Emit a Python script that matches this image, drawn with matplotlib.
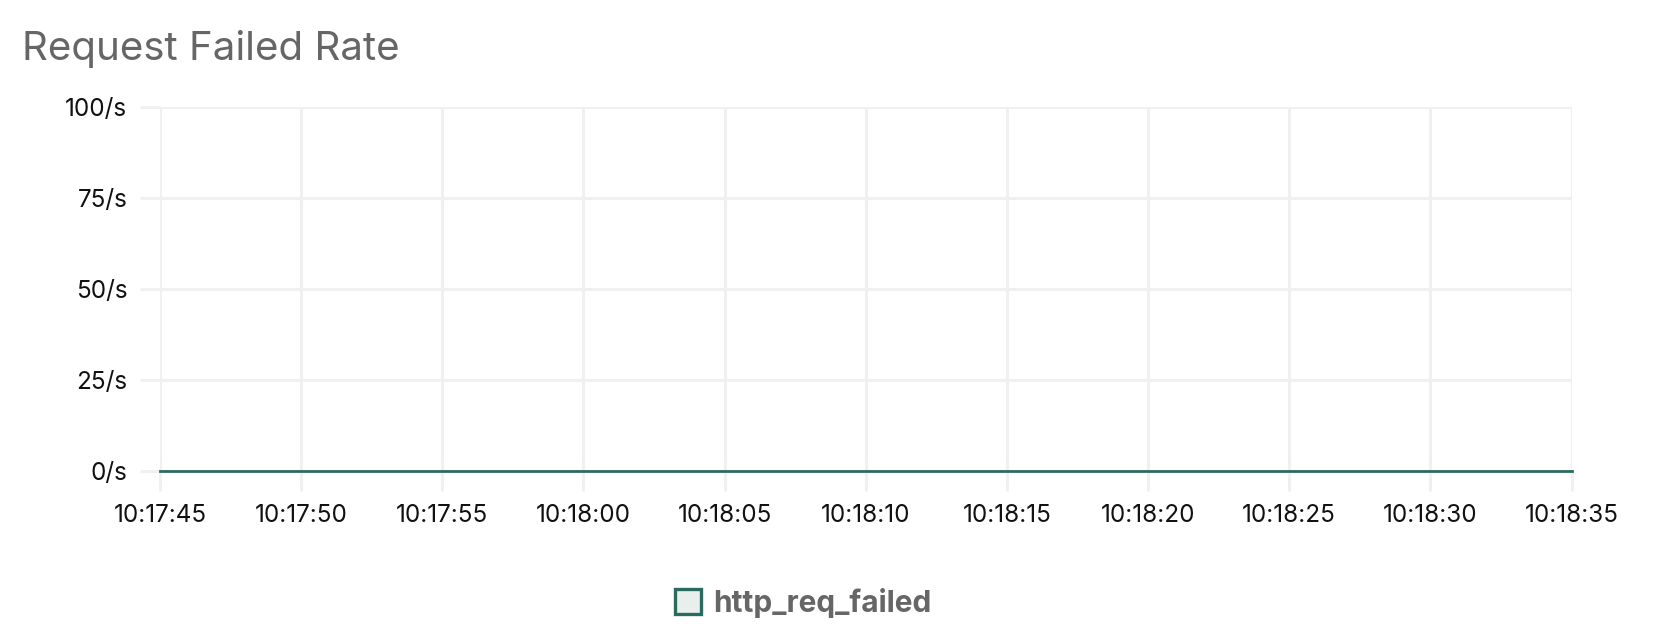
import matplotlib
matplotlib.use("Agg")
import matplotlib.pyplot as plt
import matplotlib.dates as mdates
from matplotlib.patches import Patch
from matplotlib.ticker import FuncFormatter
import pandas as pd

plt.rcParams['font.family'] = ['Inter', 'DejaVu Sans']

# series data (sampled every 5 s, all zero)
times = ["10:17:45", "10:17:50", "10:17:55", "10:18:00", "10:18:05", "10:18:10",
         "10:18:15", "10:18:20", "10:18:25", "10:18:30", "10:18:35"]
failed = [0, 0, 0, 0, 0, 0, 0, 0, 0, 0, 0]
y_ticks = [0, 25, 50, 75, 100]
series_name = "http_req_failed"
title = "Request Failed Rate"

line_color = "#2b6b5f"
grid_color = "#f0f0f0"
text_gray = "#666666"

t = pd.to_datetime(["2024-01-01 " + s for s in times])

fig = plt.figure(figsize=(16.56, 6.38), dpi=100)
ax = fig.add_axes([0.0966, 0.261, 0.949 - 0.0966, 0.8328 - 0.261])

ax.plot(t, failed, color=line_color, lw=2.0, zorder=3, clip_on=False)

ax.set_xlim(t[0], t[-1])
ax.set_ylim(0, 100)
ax.set_xticks(t)
ax.xaxis.set_major_formatter(mdates.DateFormatter("%H:%M:%S"))
ax.set_yticks(y_ticks)
ax.yaxis.set_major_formatter(FuncFormatter(lambda v, p: f"{int(v)}/s"))

ax.grid(True, color=grid_color, lw=2.2, zorder=0)
for s in ax.spines.values():
    s.set_visible(False)
ax.tick_params(axis="both", length=14.5, width=2.2, color=grid_color,
               labelsize=17.5, labelcolor="#111111", pad=9)
ax.set_axisbelow(True)

fig.text(0.0133, 0.906, title, fontsize=29, color=text_gray, va="baseline", ha="left")

handle = Patch(facecolor="#e8efed", edgecolor=line_color, linewidth=2.4)
fig.legend([handle], [series_name], loc="center", bbox_to_anchor=(0.485, 0.055),
           frameon=False, handlelength=0.9, handleheight=0.9, handletextpad=0.4,
           prop={"size": 21.5, "weight": "bold"}, labelcolor=text_gray)

fig.savefig("out.png", dpi=100, facecolor="white")
